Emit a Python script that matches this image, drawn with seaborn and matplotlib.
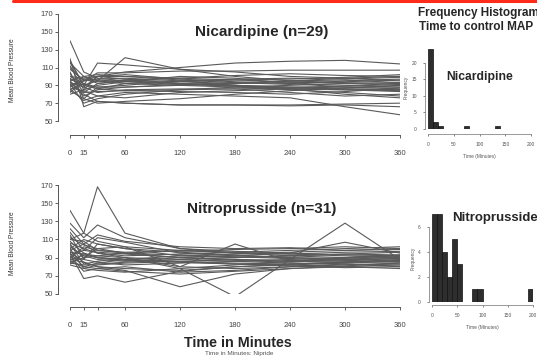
import numpy as np
import pandas as pd
import matplotlib
matplotlib.use("Agg")
import matplotlib.pyplot as plt
import seaborn as sns

# sample times (minutes)
times = [0, 15, 30, 60, 120, 180, 240, 300, 360]

# mean blood pressure per patient, Nicardipine (n=29)
nicardipine_map = [
    [140, 105, 98, 95, 92, 90, 88, 86, 85],
    [120, 66, 72, 70, 68, 68, 68, 69, 70],
    [118, 90, 115, 113, 108, 105, 100, 98, 95],
    [115, 100, 95, 121, 108, 100, 95, 93, 92],
    [112, 85, 100, 105, 110, 115, 117, 118, 114],
    [110, 95, 104, 104, 106, 106, 107, 107, 107],
    [105, 75, 88, 90, 95, 97, 98, 97, 99],
    [100, 98, 100, 100, 98, 96, 94, 92, 90],
    [97, 90, 95, 92, 90, 88, 86, 85, 83],
    [95, 80, 72, 70, 68, 68, 67, 68, 66],
    [95, 100, 102, 100, 96, 93, 91, 95, 97],
    [93, 88, 82, 85, 86, 86, 87, 88, 88],
    [92, 70, 75, 80, 85, 88, 90, 92, 93],
    [90, 95, 97, 98, 95, 90, 86, 80, 76],
    [90, 82, 83, 84, 85, 86, 82, 78, 80],
    [88, 100, 92, 96, 94, 92, 95, 98, 100],
    [86, 73, 78, 82, 80, 78, 76, 66, 57],
    [85, 92, 88, 88, 90, 92, 93, 94, 96],
    [84, 75, 70, 72, 75, 80, 84, 87, 90],
    [82, 95, 100, 97, 92, 90, 88, 89, 91],
    [80, 85, 90, 94, 100, 98, 92, 88, 86],
    [100, 92, 86, 84, 83, 82, 80, 83, 87],
    [108, 96, 94, 96, 98, 101, 103, 101, 100],
    [103, 82, 92, 95, 92, 89, 87, 86, 85],
    [98, 88, 100, 102, 97, 94, 92, 90, 88],
    [94, 78, 85, 88, 91, 93, 95, 96, 93],
    [89, 97, 96, 94, 91, 89, 85, 82, 78],
    [116, 90, 86, 92, 94, 96, 97, 99, 102],
    [87, 84, 78, 76, 82, 84, 86, 85, 84],
]

# mean blood pressure per patient, Nitroprusside (n=31)
nitroprusside_map = [
    [142, 117, 108, 102, 98, 95, 92, 90, 91],
    [110, 117, 168, 117, 100, 97, 95, 93, 92],
    [95, 67, 70, 63, 75, 80, 83, 85, 86],
    [128, 112, 126, 112, 100, 95, 94, 96, 97],
    [122, 105, 115, 108, 102, 100, 101, 98, 99],
    [118, 98, 112, 107, 95, 92, 90, 88, 89],
    [115, 88, 105, 100, 92, 90, 92, 94, 93],
    [112, 104, 100, 95, 90, 88, 86, 85, 87],
    [110, 108, 98, 96, 97, 99, 100, 102, 100],
    [108, 95, 90, 88, 85, 83, 82, 84, 86],
    [106, 100, 95, 90, 80, 78, 80, 82, 84],
    [105, 83, 86, 90, 78, 47, 88, 128, 88],
    [104, 90, 100, 102, 80, 105, 86, 90, 92],
    [102, 92, 88, 86, 90, 92, 95, 107, 95],
    [100, 78, 82, 84, 86, 88, 87, 86, 85],
    [98, 105, 95, 92, 94, 96, 98, 100, 102],
    [97, 85, 80, 78, 76, 80, 82, 80, 78],
    [96, 94, 92, 90, 88, 86, 84, 83, 82],
    [95, 80, 84, 88, 92, 94, 96, 98, 100],
    [93, 98, 96, 94, 90, 87, 85, 88, 91],
    [92, 75, 78, 80, 74, 76, 80, 83, 80],
    [90, 88, 85, 82, 84, 86, 88, 90, 93],
    [89, 102, 98, 95, 93, 91, 89, 87, 86],
    [88, 85, 80, 76, 58, 72, 78, 80, 82],
    [87, 93, 90, 88, 86, 84, 83, 85, 88],
    [86, 80, 78, 75, 72, 75, 78, 81, 84],
    [85, 90, 92, 95, 98, 96, 94, 92, 90],
    [84, 82, 83, 85, 88, 90, 92, 94, 96],
    [83, 95, 90, 87, 85, 83, 81, 79, 80],
    [82, 78, 76, 74, 78, 82, 86, 88, 89],
    [100, 110, 105, 100, 96, 93, 90, 89, 87],
]

# histograms of time to control MAP (10-minute bins)
bin_edges = list(range(0, 210, 10))
nicardipine_counts = [24, 2, 1, 0, 0, 0, 0, 1, 0, 0, 0, 0, 0, 1, 0, 0, 0, 0, 0, 0]
nitroprusside_counts = [7, 7, 4, 2, 5, 3, 0, 0, 1, 1, 0, 0, 0, 0, 0, 0, 0, 0, 0, 1]

x_ticks = [0, 15, 30, 60, 120, 180, 240, 300, 360]
x_tick_labels = ["0", "15", "", "60", "120", "180", "240", "300", "360"]
y_ticks = [50, 70, 90, 110, 130, 150, 170]


def to_long(rows):
    recs = []
    for pid, row in enumerate(rows):
        for t, v in zip(times, row):
            recs.append((pid, t, v))
    return pd.DataFrame(recs, columns=["patient", "time", "map"])


sns.set_style("ticks")
plt.rcParams["font.family"] = ["Liberation Sans", "DejaVu Sans"]

W, H = 537, 358
fig = plt.figure(figsize=(W / 100, H / 100), dpi=100)


def px_axes(x0, y0, x1, y1):
    # pixel box (top-left origin) -> figure axes
    return fig.add_axes([x0 / W, 1 - y1 / H, (x1 - x0) / W, (y1 - y0) / H])


def line_panel(rows, box, bottom_out):
    ax = px_axes(*box)
    sns.lineplot(data=to_long(rows), x="time", y="map", units="patient",
                 estimator=None, color="#5a5a5a", linewidth=0.8, ax=ax)
    ax.set_xlim(0, 360)
    ax.set_ylim(50, 170)
    ax.set_xticks(x_ticks)
    ax.set_xticklabels(x_tick_labels)
    ax.set_yticks(y_ticks)
    ax.set_xlabel("")
    ax.set_ylabel("")
    ax.tick_params(labelsize=5.5, colors="#444444", length=2, width=0.6, pad=1.5)
    ax.tick_params(axis="x", pad=9)
    sns.despine(ax=ax)
    ax.spines["left"].set_position(("outward", 8.6))
    ax.spines["left"].set_bounds(50, 170)
    ax.spines["bottom"].set_position(("outward", bottom_out))
    ax.spines["bottom"].set_bounds(0, 360)
    for s in ("left", "bottom"):
        ax.spines[s].set_linewidth(0.7)
        ax.spines[s].set_color("#555555")
    ax.patch.set_alpha(0)
    return ax


ax1 = line_panel(nicardipine_map, (70, 14, 400, 121), 10)
ax2 = line_panel(nitroprusside_map, (70, 185, 400, 294), 9.4)


def hist_panel(counts, box, ymax, yt, xout):
    ax = px_axes(*box)
    sns.histplot(x=bin_edges[:-1], weights=counts, bins=bin_edges,
                 color="#2e2e2e", edgecolor="#111111", linewidth=0.5,
                 alpha=1, ax=ax)
    ax.set_xlim(0, 200)
    ax.set_ylim(0, ymax)
    ax.set_xticks([0, 50, 100, 150, 200])
    ax.set_yticks(yt)
    ax.set_xlabel("Time (Minutes)", fontsize=3.5, color="#555555", labelpad=5)
    ax.set_ylabel("Frequency", fontsize=3.5, color="#555555", labelpad=2)
    ax.tick_params(labelsize=3.5, colors="#555555", length=1.5, width=0.5, pad=4)
    for lab in ax.get_yticklabels():
        lab.set_rotation(90)
        lab.set_va("center")
    sns.despine(ax=ax)
    ax.spines["left"].set_position(("outward", 2.5))
    ax.spines["left"].set_bounds(0, yt[-1])
    ax.spines["bottom"].set_position(("outward", xout))
    ax.spines["bottom"].set_bounds(0, 200)
    for s in ("left", "bottom"):
        ax.spines[s].set_linewidth(0.6)
        ax.spines[s].set_color("#888888")
    ax.patch.set_alpha(0)
    return ax


hist_panel(nicardipine_counts, (428, 46, 531, 129), 25, [0, 5, 10, 15, 20], 3.6)
hist_panel(nitroprusside_counts, (432, 214, 533, 302), 7, [0, 2, 4, 6], 2.2)

# red rule across the top
fig.add_artist(plt.Line2D([13 / W, 1], [1 - 0.8 / H, 1 - 0.8 / H],
                          color="#ff2a1a", linewidth=2.2, transform=fig.transFigure))

def ftext(x, y, s, **kw):
    fig.text(x / W, 1 - y / H, s, ha="center", va="center", **kw)

ftext(262, 32, "Nicardipine (n=29)", fontsize=11, fontweight="bold")
ftext(262, 209, "Nitroprusside (n=31)", fontsize=11, fontweight="bold")
ftext(238, 343, "Time in Minutes", fontsize=10.3, fontweight="bold")
ftext(239, 353, "Time in Minutes: Nipride", fontsize=4.6, color="#555555")
ftext(478, 13, "Frequency Histogram", fontsize=8.5, fontweight="bold")
ftext(476, 27, "Time to control MAP", fontsize=8.5, fontweight="bold")
ftext(480, 77, "Nicardipine", fontsize=8.7, fontweight="bold")
ftext(495, 218, "Nitroprusside", fontsize=9.5, fontweight="bold")
ftext(13, 70, "Mean Blood Pressure", fontsize=4.8, color="#333333", rotation=90)
ftext(13, 243, "Mean Blood Pressure", fontsize=4.8, color="#333333", rotation=90)

fig.savefig("out.png", dpi=100)
